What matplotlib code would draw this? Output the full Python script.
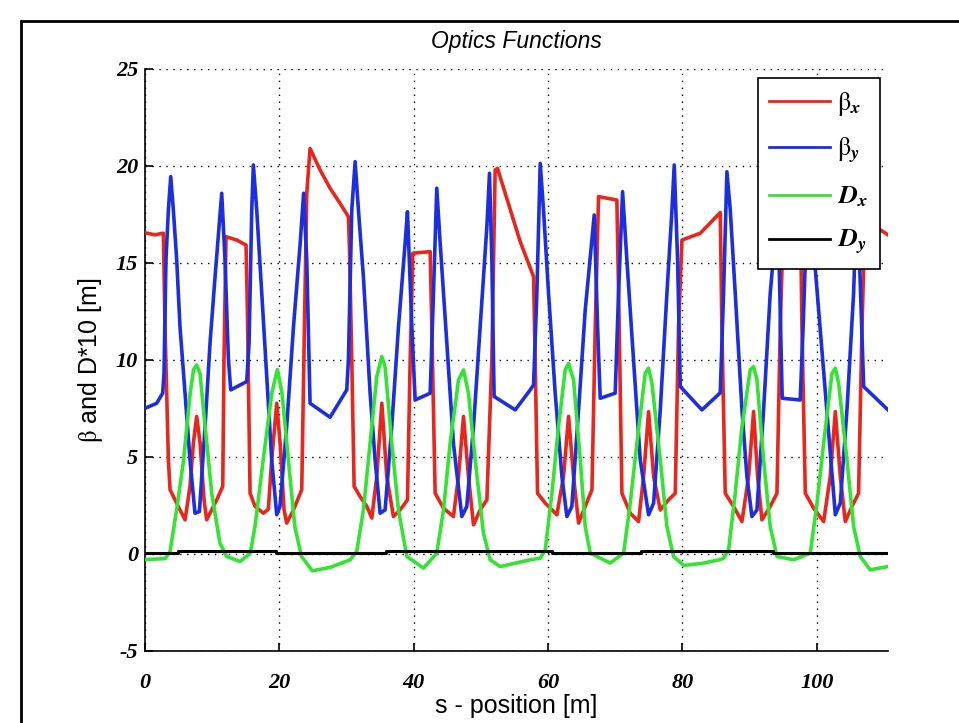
import matplotlib
matplotlib.use("Agg")
import matplotlib.pyplot as plt
from matplotlib.lines import Line2D
from matplotlib.patches import Rectangle

# beta_x
s_bx = [0, 1.5, 2.73, 2.98, 3.48, 3.73, 4.47, 5.21, 5.96, 6.70, 7.20, 7.69, 8.20, 8.79, 9.18, 9.92,
        10.68, 11.57, 11.76, 12.06, 13.65, 15.04, 15.24, 15.64, 16.38, 17.63, 18.36, 18.86, 19.61,
        20.11, 20.70, 21.09, 22.10, 23.33, 23.73, 24.08, 24.57, 26.07, 27.55, 29.04, 30.28, 30.44,
        30.78, 31.13, 32.02, 33.02, 33.76, 34.50, 35.25, 35.99, 36.98, 37.98, 39.07, 39.47, 39.87,
        42.45, 42.69, 43.19, 44.43, 45.91, 46.67, 47.41, 48.15, 48.90, 49.89, 50.89, 51.63, 52.12,
        52.47, 54.85, 55.85, 57.84, 58.08, 58.43, 59.58, 61.31, 62.30, 63.05, 63.79, 64.54, 65.53,
        66.53, 67.02, 67.51, 70.24, 70.59, 70.99, 72.23, 73.47, 74.22, 74.96, 75.71, 76.70, 77.94,
        78.93, 79.42, 79.93, 82.66, 85.63, 85.87, 86.37, 87.61, 88.86, 89.85, 90.59, 91.19, 91.83,
        93.07, 94.07, 94.56, 95.0, 97.6, 97.79, 98.29, 99.52, 101.02, 102.0, 102.76, 103.5, 104.24,
        105.24, 106.22, 106.73, 107.18, 109.46, 110.6]
bx = [16.55, 16.45, 16.53, 11.7, 4.84, 3.3, 2.78, 2.26, 1.75, 3.47, 5.7, 7.08, 5.7, 2.78, 1.75, 2.26,
      2.78, 3.47, 10.0, 16.35, 16.18, 15.92, 12.57, 3.12, 2.44, 2.09, 2.3, 4.84, 7.76,
      5.7, 2.26, 1.58, 2.26, 3.3, 11.7, 18.59, 20.9, 19.79, 18.85, 18.07, 17.38, 15.67,
      10.0, 3.47, 2.95, 2.44, 1.84, 3.98, 7.76, 3.98, 1.92, 2.26, 2.78, 10.0, 15.5,
      15.58, 11.7, 3.12, 2.35, 1.92, 3.98, 7.08, 3.98, 1.49, 2.26, 2.78, 10.0, 19.79,
      19.88, 17.21, 16.1, 14.29, 10.0, 3.12, 2.61, 2.01, 3.98, 7.08, 3.98, 1.58, 2.44,
      3.3, 11.7, 18.42, 18.24, 11.7, 3.12, 2.09, 1.66, 3.98, 7.33, 3.98, 2.26, 2.78,
      3.12, 11.7, 16.18, 16.53, 17.6, 11.7, 3.12, 2.44, 1.66, 3.98, 7.33, 3.98, 1.75,
      2.44, 3.12, 11.7, 16.8, 16.6, 11.7, 3.12, 2.35, 1.66, 3.98, 7.33, 3.98, 1.66,
      2.44, 3.12, 11.7, 17.4, 16.7, 16.45]

# beta_y
s_by = [0, 1.74, 2.63, 2.83, 3.12, 3.48, 3.83, 4.22, 4.72, 5.21, 5.96, 6.70, 7.44, 8.10, 8.94, 9.68,
        10.43, 11.42, 11.91, 12.42, 12.76, 15.14, 15.49, 15.89, 16.13, 16.63, 17.38, 18.12, 18.86,
        19.61, 20.09, 21.09, 22.10, 23.10, 23.61, 24.08, 24.57, 27.55, 30.03, 30.28, 30.78, 31.28,
        31.77, 32.51, 33.51, 34.25, 35.0, 35.74, 36.73, 37.73, 38.72, 39.07, 39.72, 40.21, 42.45,
        42.94, 43.43, 43.94, 44.93, 45.91, 47.16, 47.90, 48.90, 49.89, 50.89, 51.28, 51.63, 51.97,
        55.11, 57.34, 57.84, 58.33, 58.83, 59.32, 60.07, 61.06, 62.06, 62.80, 63.54, 64.54, 65.53,
        66.87, 67.37, 67.76, 69.99, 70.49, 71.09, 71.73, 72.72, 73.72, 74.96, 75.71, 76.70, 77.69,
        78.44, 78.78, 79.28, 79.68, 82.90, 85.63, 86.12, 86.62, 87.12, 87.86, 88.86, 89.60, 90.34,
        91.09, 92.08, 93.07, 94.2, 94.85, 97.53, 98.0, 98.7, 99.78, 102.76, 103.5, 104.49, 105.48,
        106.0, 106.98, 110.6]
by = [7.5, 7.76, 8.28, 9.3, 15.15, 17.73, 19.45, 17.73, 15.15, 11.7, 8.28, 4.84, 2.09, 2.18, 6.56, 10.86,
      14.29, 18.59, 15.15, 10.0, 8.45, 8.88, 10.86, 17.73, 20.05, 17.73, 13.43, 9.14, 4.84,
      2.01, 2.44, 6.56, 11.7, 16.01, 18.59, 15.15, 7.76, 7.04, 8.45, 10.0, 17.73, 20.22,
      17.73, 14.29, 8.28, 4.84, 2.09, 2.26, 6.56, 11.7, 16.01, 17.64, 11.7, 7.93, 8.28,
      13.43, 18.85, 16.01, 10.86, 5.7, 1.92, 2.44, 6.56, 11.7, 16.87, 19.62, 15.15, 8.11,
      7.42, 8.45, 8.71, 13.43, 20.13, 17.73, 13.43, 8.28, 3.98, 1.92, 2.44, 7.42, 12.57,
      17.47, 11.7, 8.02, 8.28, 13.43, 18.67, 15.15, 10.0, 4.84, 2.01, 2.61, 7.42, 13.43,
      17.73, 20.05, 15.15, 8.62, 7.42, 8.3, 13.43, 19.7, 17.73, 13.43, 7.42, 3.98, 1.92,
      2.26, 7.42, 13.43, 18.0, 8.02, 7.93, 12.0, 19.5, 14.67, 2.01, 2.61, 7.42, 13.43,
      18.8, 8.62, 7.42]

# D_x * 10
s_dx = [0, 3.0, 3.72, 4.72, 5.73, 6.73, 7.23, 7.69, 8.19, 8.94, 9.94, 11.15, 12.15, 14.16, 15.67,
        16.37, 17.58, 18.88, 19.71, 20.39, 21.35, 22.3, 23.3, 24.9, 27.6, 30.54, 31.52, 32.51,
        33.51, 34.50, 35.25, 35.74, 36.73, 37.73, 38.97, 41.45, 43.43, 44.43, 45.42, 46.67, 47.41,
        48.15, 49.15, 50.38, 51.38, 52.87, 57.34, 58.83, 59.58, 60.57, 61.55, 62.55, 63.05, 63.79,
        64.79, 65.53, 66.28, 69.25, 71.24, 72.23, 73.23, 74.46, 74.96, 75.46, 76.70, 77.69, 78.68,
        80.18, 82.87, 85.63, 86.12, 86.87, 87.86, 88.86, 90.09, 90.59, 91.09, 92.08, 93.07, 94.07,
        96.55, 99.03, 100.03, 101.02, 102.26, 102.76, 103.25, 104.49, 105.48, 106.47, 107.96, 110.6]
dx = [-0.3, -0.25, 0.1, 2.3, 4.8, 8.3, 9.5, 9.74, 9.3, 6.6, 3.1, 0.55, -0.14, -0.4, 0.03,
      1.4, 4.8, 8.3, 9.5, 8.3, 4.8, 1.4, -0.14, -0.88, -0.7, -0.31, 0.12, 2.26,
      5.7, 9.14, 10.17, 9.65, 5.7, 2.26, -0.14, -0.74, 0.03, 2.26, 5.7, 8.97, 9.48,
      8.28, 4.84, 1.06, -0.31, -0.66, -0.31, -0.23, 0.2, 3.12, 6.56, 9.48, 9.82, 8.97,
      4.84, 1.4, 0.03, -0.48, 0.03, 2.61, 5.7, 9.31, 9.57, 8.79, 4.84, 1.4, -0.14,
      -0.6, -0.5, -0.3, -0.23, 0.2, 3.12, 6.56, 9.48, 9.65, 8.97, 4.84, 1.4, -0.14,
      -0.31, 0.03, 2.61, 5.7, 9.31, 9.57, 8.79, 4.84, 1.4, -0.14, -0.83, -0.66]

# D_y * 10
s_dy = [0, 4.9, 4.9, 19.5, 19.5, 35.85, 35.85, 60.55, 60.55, 73.9, 73.9, 93.5, 93.5, 110.6]
dy = [0.03, 0.03, 0.15, 0.15, 0.03, 0.03, 0.15, 0.15, 0.03, 0.03, 0.15, 0.15, 0.03, 0.03]

plt.rcParams['mathtext.fontset'] = 'stix'
plt.rcParams['axes.unicode_minus'] = False

fig = plt.figure(figsize=(9.59, 7.23), dpi=100)
ax = fig.add_axes([145/959, 1 - 650.7/723, 743/959, 581.7/723])

ax.plot(s_bx, bx, color='#e8261c', lw=2.6, zorder=3)
ax.plot(s_by, by, color='#1b2ee0', lw=2.6, zorder=4)
ax.plot(s_dx, dx, color='#33e433', lw=2.6, zorder=5)
ax.plot(s_dy, dy, color='black', lw=2.2, zorder=6)

ax.set_xlim(0, 110.6)
ax.set_ylim(-5, 25)
ax.set_xticks(range(0, 101, 20))
ax.set_yticks(range(-5, 26, 5))
ax.grid(True, color='black', linestyle=(0, (1, 4)), linewidth=1.0)
ax.spines['top'].set_visible(False)
ax.spines['right'].set_visible(False)
for sp in ['left', 'bottom']:
    ax.spines[sp].set_linewidth(1.2)
ax.tick_params(direction='in', length=6, width=1.2)
ax.tick_params(axis='x', pad=16)
ax.tick_params(axis='y', pad=5)
for lab in ax.get_xticklabels() + ax.get_yticklabels():
    lab.set_fontfamily('Liberation Serif')
    lab.set_fontweight('bold')
    lab.set_fontstyle('italic')
    lab.set_fontsize(16)

ax.set_title('Optics Functions', fontsize=16.5, fontstyle='italic', family='Liberation Sans', pad=15)
ax.set_xlabel('s - position [m]', fontsize=18, family='Liberation Sans', labelpad=1)
ax.set_ylabel(r'$\mathrm{\beta}$ and D*10 [m]', fontsize=18, family='Liberation Sans', labelpad=8)

handles = [Line2D([], [], color='#e8261c', lw=2.0),
           Line2D([], [], color='#1b2ee0', lw=2.0),
           Line2D([], [], color='#33e433', lw=2.0),
           Line2D([], [], color='black', lw=2.0)]
labels = [r'$\mathrm{\beta}_{\boldsymbol{x}}$', r'$\mathrm{\beta}_{\boldsymbol{y}}$',
          r'$\boldsymbol{D}_{\boldsymbol{x}}$', r'$\boldsymbol{D}_{\boldsymbol{y}}$']
leg = ax.legend(handles, labels, loc='upper right', bbox_to_anchor=(880/959, 1 - 78/723),
                bbox_transform=fig.transFigure, fontsize=19, handlelength=2.3,
                handletextpad=0.25, labelspacing=0.68, borderpad=0.45, borderaxespad=0,
                fancybox=False, framealpha=1, edgecolor='black')
leg.get_frame().set_linewidth(1.2)
leg.set_zorder(10)

# outer frame of the figure window
fig.add_artist(Rectangle((21/959, -0.5), 2, 1.5 - 21/723, transform=fig.transFigure,
                         fill=False, edgecolor='black', lw=2))

fig.savefig('out.png', dpi=100)
